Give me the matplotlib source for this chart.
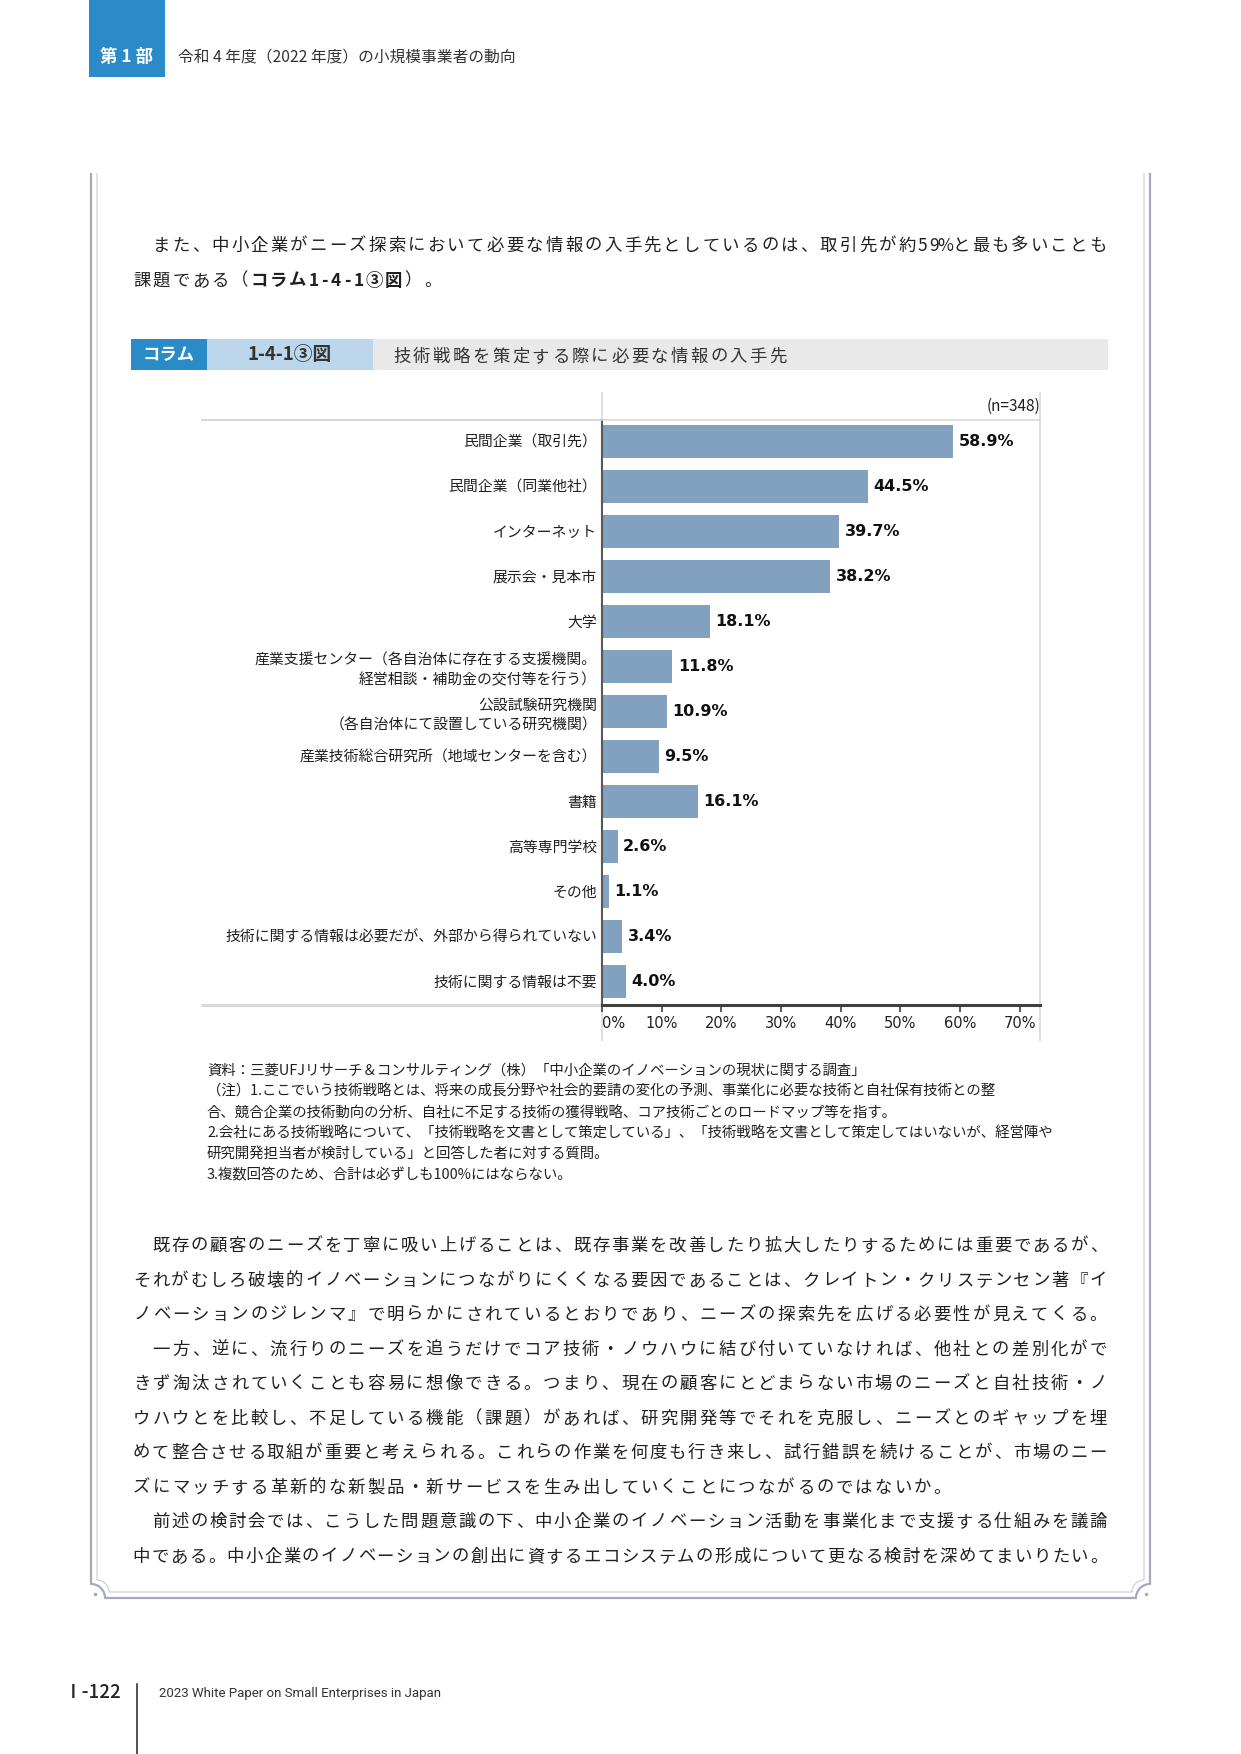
import numpy as np
import matplotlib
matplotlib.use("Agg")
import matplotlib.pyplot as plt
from matplotlib.patches import Rectangle

plt.rcParams['font.family'] = ['Noto Sans CJK JP', 'DejaVu Sans']

# ---- chart data ----
categories = [
    "民間企業（取引先）",
    "民間企業（同業他社）",
    "インターネット",
    "展示会・見本市",
    "大学",
    "産業支援センター（各自治体に存在する支援機関。\n経営相談・補助金の交付等を行う）",
    "公設試験研究機関\n（各自治体にて設置している研究機関）",
    "産業技術総合研究所（地域センターを含む）",
    "書籍",
    "高等専門学校",
    "その他",
    "技術に関する情報は必要だが、外部から得られていない",
    "技術に関する情報は不要",
]
values = [58.9, 44.5, 39.7, 38.2, 18.1, 11.8, 10.9, 9.5, 16.1, 2.6, 1.1, 3.4, 4.0]
xticks = [0, 10, 20, 30, 40, 50, 60, 70]
n_label = "(n=348)"

# ---- page texts ----
header_tag = "第 1 部"
header_text = "令和 4 年度（2022 年度）の小規模事業者の動向"
fig_tag = "コラム"
fig_no = "1-4-1③図"
fig_title = "技術戦略を策定する際に必要な情報の入手先"

top_lines = [
    ([("　また、中小企業がニーズ探索において必要な情報の入手先としているのは、取引先が約59%と最も多いことも", False)], True),
    ([("課題である（", False), ("コラム1-4-1③図", True), ("）。", False)], False),
]
body_lines = [
    ("　既存の顧客のニーズを丁寧に吸い上げることは、既存事業を改善したり拡大したりするためには重要であるが、", True),
    ("それがむしろ破壊的イノベーションにつながりにくくなる要因であることは、クレイトン・クリステンセン著『イ", True),
    ("ノベーションのジレンマ』で明らかにされているとおりであり、ニーズの探索先を広げる必要性が見えてくる。", True),
    ("　一方、逆に、流行りのニーズを追うだけでコア技術・ノウハウに結び付いていなければ、他社との差別化がで", True),
    ("きず淘汰されていくことも容易に想像できる。つまり、現在の顧客にとどまらない市場のニーズと自社技術・ノ", True),
    ("ウハウとを比較し、不足している機能（課題）があれば、研究開発等でそれを克服し、ニーズとのギャップを埋", True),
    ("めて整合させる取組が重要と考えられる。これらの作業を何度も行き来し、試行錯誤を続けることが、市場のニー", True),
    ("ズにマッチする革新的な新製品・新サービスを生み出していくことにつながるのではないか。", False),
    ("　前述の検討会では、こうした問題意識の下、中小企業のイノベーション活動を事業化まで支援する仕組みを議論", True),
    ("中である。中小企業のイノベーションの創出に資するエコシステムの形成について更なる検討を深めてまいりたい。", True),
]
notes = [
    "資料：三菱UFJリサーチ＆コンサルティング（株）「中小企業のイノベーションの現状に関する調査」",
    "（注）1.ここでいう技術戦略とは、将来の成長分野や社会的要請の変化の予測、事業化に必要な技術と自社保有技術との整",
    "合、競合企業の技術動向の分析、自社に不足する技術の獲得戦略、コア技術ごとのロードマップ等を指す。",
    "2.会社にある技術戦略について、「技術戦略を文書として策定している」、「技術戦略を文書として策定してはいないが、経営陣や",
    "研究開発担当者が検討している」と回答した者に対する質問。",
    "3.複数回答のため、合計は必ずしも100%にはならない。",
]
footer_page = "Ⅰ-122"
footer_text = "2023 White Paper on Small Enterprises in Japan"

W, H = 1241, 1754
TEXT = '#231f20'
BLUE = '#2b8bc9'
BAR = '#82a0c0'
LIGHT = '#d9d9d9'

fig = plt.figure(figsize=(W / 100, H / 100), dpi=100)
bg = fig.add_axes([0, 0, 1, 1])
bg.set_xlim(0, W)
bg.set_ylim(H, 0)
bg.axis('off')


def grid_line(x0, y, segments, right=None, adv=19.52, size=12.5, color=TEXT):
    # lays out characters on a fixed grid, stretched to `right` when justified
    chars = [(c, b) for txt, b in segments for c in txt]
    units = [0.58 if ord(c) < 0x1100 else 1.0 for c, _ in chars]
    a = (right - x0) / sum(units) if right else adv
    x = x0
    for (c, b), u in zip(chars, units):
        bg.text(x + u * a / 2, y + 0.38 * size / 0.72, c, ha='center', va='baseline',
                fontsize=size, color=color, fontweight='bold' if b else 'normal')
        x += u * a


# header
bg.add_patch(Rectangle((89, 0), 76, 77, color=BLUE, lw=0))
bg.text(127, 57, header_tag, ha='center', va='center', color='white', fontsize=12.5, fontweight='bold')
bg.text(178, 57, header_text, ha='left', va='center', color='#333333', fontsize=11.3)

# page frame
for xo, yb, r, col, lw in [(91, 1598, 14, '#a7a9b8', 1.6), (97, 1592, 12, '#c9cbd6', 0.8)]:
    t = np.linspace(0, np.pi / 2, 30)
    lx = np.concatenate([[xo], xo + r * np.sin(t)])
    ly = np.concatenate([[173], yb - r * np.cos(t)])
    xs = np.concatenate([lx, (W - lx)[::-1]])
    ys = np.concatenate([ly, ly[::-1]])
    bg.plot(xs, ys, color=col, lw=lw, solid_capstyle='butt')
bg.plot([95, W - 95], [1594, 1594], ls='none', marker='o', ms=1.5, color='#a7a9b8')

# top paragraph
for (segs, just), y in zip(top_lines, [244, 279]):
    grid_line(132, y, segs, right=1108 if just else None)

# figure title bar
bg.add_patch(Rectangle((131, 339), 76, 31, color=BLUE, lw=0))
bg.add_patch(Rectangle((207, 339), 166, 31, color='#bcd7ec', lw=0))
bg.add_patch(Rectangle((373, 339), 735, 31, color='#e9e9e9', lw=0))
bg.text(169, 355, fig_tag, ha='center', va='center', color='white', fontsize=12.5, fontweight='bold')
bg.text(290, 355, fig_no, ha='center', va='center', color='#333333', fontsize=13.5, fontweight='bold')
grid_line(392, 355, [(fig_title, False)], adv=19.8, size=12.5, color='#333333')

# chart frame extensions
for xs, ys, lw in [([201, 602], [420, 420], 1.5), ([201, 602], [1005, 1005], 2.2),
                   ([602, 602], [392, 420], 1.2), ([602, 602], [1005, 1041], 1.2),
                   ([1040, 1040], [392, 420], 1.2), ([1040, 1040], [1005, 1041], 1.2)]:
    bg.plot(xs, ys, color=LIGHT, lw=lw, solid_capstyle='butt')
bg.text(1040, 406, n_label, ha='right', va='center', fontsize=11, color=TEXT)

# chart
ax = fig.add_axes([602 / W, 1 - 1005 / H, 438 / W, 585 / H])
ypos = np.arange(len(values))
ax.barh(ypos, values, height=0.73, color=BAR)
ax.set_xlim(0, 73.4)
ax.set_ylim(12.53, -0.47)
ax.set_yticks(ypos)
ax.set_yticklabels(categories, fontsize=10.7, color=TEXT)
for lbl in ax.get_yticklabels():
    lbl.set_linespacing(1.5)
ax.tick_params(axis='y', length=0, pad=3.5)
ax.set_xticks(xticks)
ax.set_xticklabels([f"{t}%" for t in xticks], fontsize=10.5, color=TEXT, family='DejaVu Sans')
ax.get_xticklabels()[0].set_horizontalalignment('left')
ax.tick_params(axis='x', direction='out', length=5, width=1.2, color='#404040', pad=3)
ax.spines['left'].set_color('#595959')
ax.spines['left'].set_linewidth(1.5)
ax.spines['bottom'].set_color('#404040')
ax.spines['bottom'].set_linewidth(2.2)
for s in ['top', 'right']:
    ax.spines[s].set_color(LIGHT)
    ax.spines[s].set_linewidth(1.2)
for i, v in enumerate(values):
    ax.annotate(f"{v:.1f}%", xy=(v, i), xytext=(4, 0), textcoords='offset points',
                va='center', ha='left', fontsize=11.5, fontweight='bold',
                family='DejaVu Sans', color='#111111')

# notes
for txt, y in zip(notes, [1071, 1091, 1114, 1134, 1154, 1175]):
    bg.text(207, y, txt, ha='left', va='center', fontsize=10.4, color=TEXT)

# lower body text
body_y = [1244, 1279, 1313, 1348, 1382, 1417, 1451, 1486, 1520, 1555]
for (txt, just), y in zip(body_lines, body_y):
    grid_line(132, y, [(txt, False)], right=1108 if just else None)

# footer
bg.text(64, 1693, footer_page, ha='left', va='center', fontsize=13.5, fontweight='medium', color='#222222')
bg.plot([137, 137], [1684, 1754], color='#222222', lw=1.1)
bg.text(159, 1693, footer_text, ha='left', va='center', fontsize=9.5, family='Roboto', color='#333333')

fig.savefig('out.png', dpi=100)
